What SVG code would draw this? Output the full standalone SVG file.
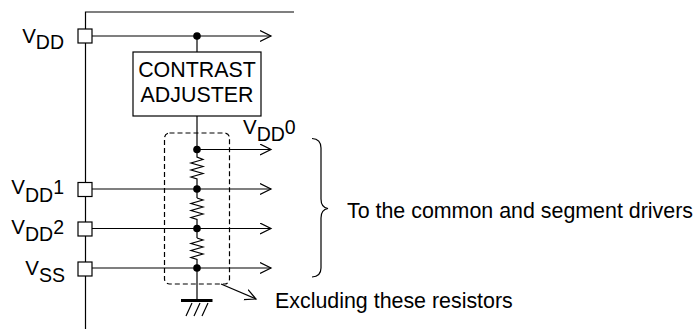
<svg xmlns="http://www.w3.org/2000/svg" width="696" height="331" viewBox="0 0 696 331">
<defs>
<style>
.w{fill:none;stroke:#000;stroke-width:1.2}
.pad{fill:#fff;stroke:#000;stroke-width:1.2}
.dot{fill:#000}
.t{font-family:"Liberation Sans",Arial,sans-serif;font-size:21.4px;fill:#000}
.lb{font-family:"Liberation Sans",Arial,sans-serif;font-size:20.5px;fill:#000}
.s{font-size:19.5px}
</style>
<marker id="ah" markerUnits="userSpaceOnUse" markerWidth="14" markerHeight="14" refX="11" refY="6" orient="auto">
<path d="M0,0.5 L11,6 L0,11.5" fill="none" stroke="#000" stroke-width="1.2"/>
</marker>
</defs>
<rect width="696" height="331" fill="#fff"/>
<g id="connectors">
<path class="w" d="M294,12 H85.5 V329"/>
<path class="w" d="M92,36 H271" marker-end="url(#ah)"/>
<path class="w" d="M197,36 V52"/>
<path class="w" d="M197,116 V155"/>
<path class="w" d="M197,149.5 H271" marker-end="url(#ah)"/>
<path class="w" d="M92,189 H271" marker-end="url(#ah)"/>
<path class="w" d="M92,228.5 H271" marker-end="url(#ah)"/>
<path class="w" d="M92,268 H271" marker-end="url(#ah)"/>
<path class="w" d="M221,284 L256,299" marker-end="url(#ah)"/>
</g>
<g id="resistors">
<path class="w" d="M197,155 V157 L203,159.5 L191,163 L203,166.5 L191,170 L203,173.5 L191,177 L197,179 V198"/>
<path class="w" d="M197,198 L203,200 L191,203.5 L203,207 L191,210.5 L203,214 L191,217.5 L197,219.5 V238"/>
<path class="w" d="M197,238 L203,240 L191,243.5 L203,247 L191,250.5 L203,254 L191,257.5 L197,259.5 V300"/>
</g>
<g id="dots">
<circle class="dot" cx="197" cy="36" r="3.8"/>
<circle class="dot" cx="197" cy="149.5" r="3.8"/>
<circle class="dot" cx="197" cy="189" r="3.8"/>
<circle class="dot" cx="197" cy="228.5" r="3.8"/>
<circle class="dot" cx="197" cy="268" r="3.8"/>
</g>
<g id="contrast-adjuster">
<rect class="w" x="133" y="52" width="128" height="64"/>
<text class="t" x="197" y="77" text-anchor="middle">CONTRAST</text>
<text class="t" x="197" y="101.5" text-anchor="middle">ADJUSTER</text>
</g>
<g id="dashed-box">
<rect x="164.5" y="133" width="65" height="151" rx="5" fill="none" stroke="#000" stroke-width="1.2" stroke-dasharray="5,3"/>
</g>
<g id="ground">
<path d="M181,300.5 H212.5" stroke="#000" stroke-width="3" fill="none"/>
<path class="w" d="M192,303 L186,316 M200,303 L194,316 M208,303 L202,316"/>
</g>
<g id="pad-vdd">
<rect class="pad" x="78" y="29" width="14" height="14"/>
<text class="lb" x="64" y="43" text-anchor="end">V<tspan class="s" dy="6">DD</tspan></text>
</g>
<g id="pad-vdd1">
<rect class="pad" x="78" y="182.5" width="14" height="14"/>
<text class="lb" x="64" y="194" text-anchor="end">V<tspan class="s" dy="7.5">DD</tspan><tspan class="s" dy="-7.5">1</tspan></text>
</g>
<g id="pad-vdd2">
<rect class="pad" x="78" y="222" width="14" height="14"/>
<text class="lb" x="64" y="233.5" text-anchor="end">V<tspan class="s" dy="7.5">DD</tspan><tspan class="s" dy="-7.5">2</tspan></text>
</g>
<g id="pad-vss">
<rect class="pad" x="78" y="262" width="14" height="14"/>
<text class="lb" x="65" y="275" text-anchor="end">V<tspan class="s" dy="6.5">SS</tspan></text>
</g>
<g id="label-vdd0">
<text class="lb" x="243" y="134">V<tspan class="s" dy="7">DD</tspan><tspan class="s" dy="-7">0</tspan></text>
</g>
<g id="brace">
<path class="w" d="M312,138.5 Q321,139 321,148 L321,199 Q321,207.5 328,208.5 Q321,209.5 321,218 L321,268 Q321,276.5 312,277"/>
<text class="t" x="347" y="217.5">To the common and segment drivers</text>
</g>
<g id="excluding-label">
<text class="t" x="275" y="307.5">Excluding these resistors</text>
</g>
</svg>
